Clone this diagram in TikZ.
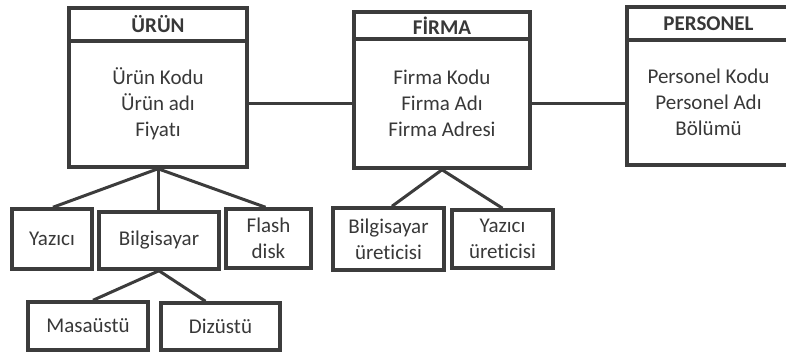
\documentclass[tikz,border=0pt]{standalone}
\usepackage{fontspec}
\setmainfont{Carlito}[Ligatures=NoCommon]
\definecolor{ink}{HTML}{3C3C3C}
\definecolor{txt}{HTML}{383838}
\begin{document}
\begin{tikzpicture}[x=1pt,y=-1pt,
  box/.style={draw=ink, line width=3.5pt, inner sep=0pt, align=center,
    text=txt, font=\fontsize{21}{26}\selectfont},
  hdr/.style={box, font=\fontsize{21}{26}\selectfont\bfseries},
  link/.style={draw=ink, line width=3pt}]
\path[use as bounding box] (0,0) rectangle (786,351);
\clip (0,0) rectangle (786,351);

% entity ÜRÜN
\node[hdr, minimum width=178pt, minimum height=33pt] (urunH) at (158,24.5) {ÜRÜN};
\node[box, minimum width=178pt, minimum height=126pt] (urun) at (158,104) {Ürün Kodu\\Ürün adı\\Fiyatı};

% entity FİRMA
\node[hdr, minimum width=176pt, minimum height=27pt] (firmaH) at (442,25.5) {FİRMA};
\node[box, minimum width=176pt, minimum height=129pt] (firma) at (442,103.5) {Firma Kodu\\Firma Adı\\Firma Adresi};

% entity PERSONEL (runs past the right edge)
\node[hdr, minimum width=163pt, minimum height=33pt] (persH) at (708.5,23.5) {PERSONEL};
\node[box, minimum width=163pt, minimum height=125pt] (pers) at (708.5,102.5) {Personel Kodu\\Personel Adı\\Bölümü};

% sub-types of ÜRÜN
\node[box, minimum width=80pt, minimum height=60pt] (yazici) at (52,239) {Yazıcı};
\node[box, minimum width=120pt, minimum height=57pt] (bilg) at (159,240.5) {Bilgisayar};
\node[box, minimum width=85pt, minimum height=59pt] (flash) at (268.5,238.5) {Flash\\disk};
\node[box, minimum width=120pt, minimum height=48pt] (masa) at (88,326) {Masaüstü};
\node[box, minimum width=119pt, minimum height=47pt] (diz) at (220.5,326.5) {Dizüstü};

% sub-types of FİRMA
\node[box, minimum width=111pt, minimum height=62pt] (bur) at (388.5,239) {Bilgisayar\\üreticisi};
\node[box, minimum width=101pt, minimum height=58pt] (yur) at (502.5,239) {Yazıcı\\üreticisi};

% relationships
\draw[link] (urun.east |- 0,103.5) -- (firma.west |- 0,103.5);
\draw[link] (firma.east |- 0,103) -- (pers.west |- 0,103);

% hierarchy connectors
\draw[link] (urun.south) -- ([xshift=1pt]yazici.north);
\draw[link] (urun.south) -- (urun.south |- bilg.north);
\draw[link] (urun.south) -- ([xshift=-3pt]flash.north);
\draw[link] (bilg.south) -- ([xshift=5pt]masa.north);
\draw[link] (bilg.south) -- ([xshift=-15pt]diz.north);
\draw[link] (firma.south) -- ([xshift=3.5pt]bur.north);
\draw[link] (firma.south) -- (yur.north);
\end{tikzpicture}
\end{document}
